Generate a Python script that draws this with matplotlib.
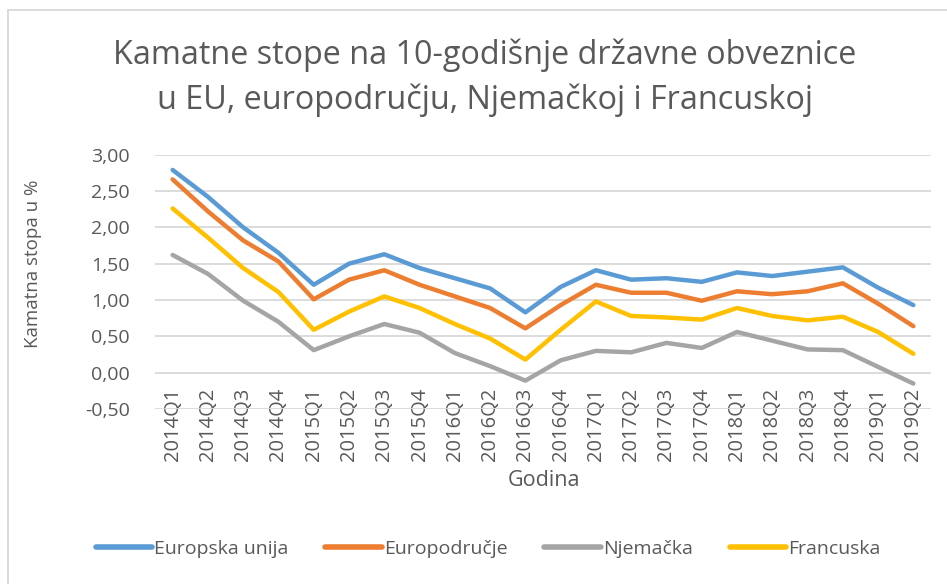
import matplotlib
matplotlib.use("Agg")
import matplotlib.pyplot as plt
from matplotlib.patches import Rectangle

quarters = [
    "2014Q1", "2014Q2", "2014Q3", "2014Q4",
    "2015Q1", "2015Q2", "2015Q3", "2015Q4",
    "2016Q1", "2016Q2", "2016Q3", "2016Q4",
    "2017Q1", "2017Q2", "2017Q3", "2017Q4",
    "2018Q1", "2018Q2", "2018Q3", "2018Q4",
    "2019Q1", "2019Q2",
]
eu = [2.79, 2.42, 2.00, 1.65, 1.21, 1.50, 1.63, 1.44, 1.30, 1.16, 0.83,
      1.18, 1.41, 1.28, 1.30, 1.25, 1.38, 1.33, 1.39, 1.45, 1.17, 0.93]
euro_area = [2.66, 2.22, 1.82, 1.53, 1.01, 1.28, 1.41, 1.21, 1.05, 0.89, 0.61,
             0.93, 1.21, 1.10, 1.10, 0.99, 1.12, 1.08, 1.12, 1.23, 0.95, 0.64]
germany = [1.62, 1.36, 0.99, 0.70, 0.31, 0.50, 0.67, 0.55, 0.27, 0.09, -0.11,
           0.17, 0.30, 0.28, 0.41, 0.34, 0.56, 0.44, 0.32, 0.31, 0.08, -0.15]
france = [2.26, 1.86, 1.44, 1.11, 0.59, 0.84, 1.05, 0.89, 0.67, 0.47, 0.18,
          0.59, 0.98, 0.78, 0.76, 0.73, 0.89, 0.78, 0.72, 0.77, 0.56, 0.26]

series_names = ["Europska unija", "Europodručje", "Njemačka", "Francuska"]
colors = ["#5B9BD5", "#ED7D31", "#A5A5A5", "#FFC000"]
text_color = "#595959"

plt.rcParams["font.family"] = ["Open Sans", "DejaVu Sans"]

fig = plt.figure(figsize=(9.47, 5.84), dpi=100)
W, H = 947, 584

# chart area border (Excel style), cut by the image edges on the right/bottom
fig.patches.append(Rectangle((8 / W, -0.1), 1.2, 1 - 10 / H + 0.1,
                             transform=fig.transFigure, fill=False,
                             edgecolor="#d9d9d9", linewidth=1.3))

ax = fig.add_axes([155 / W, 1 - 409 / H, (931 - 155) / W, (409 - 154.7) / H])
# category axis crosses at 0, like Excel (labels hang below the zero line)
ax.spines["bottom"].set_position(("data", 0))

x = range(len(quarters))
for vals, name, c in zip([eu, euro_area, germany, france], series_names, colors):
    ax.plot(x, vals, color=c, linewidth=3.2, label=name,
            solid_capstyle="round", solid_joinstyle="round")

ax.set_xlim(-0.5, len(quarters) - 0.5)
ax.set_ylim(-0.5, 3.0)
ax.set_yticks([-0.5, 0, 0.5, 1.0, 1.5, 2.0, 2.5, 3.0])
ax.set_yticklabels([f"{v:.2f}".replace(".", ",") for v in ax.get_yticks()])
ax.set_xticks(list(x))
ax.set_xticklabels(quarters)

for s in ax.spines.values():
    s.set_visible(False)
ax.grid(True, axis="y", color="#d9d9d9", linewidth=1.3)
ax.set_axisbelow(True)
ax.tick_params(axis="both", length=0, colors=text_color)
ax.tick_params(axis="x", pad=11, labelrotation=90, labelsize=14.5)
ax.tick_params(axis="y", pad=18, labelsize=14)

fig.text(485 / W, 1 - 55 / H, "Kamatne stope na 10-godišnje državne obveznice",
         ha="center", va="center", fontsize=23.3, color=text_color)
fig.text(485 / W, 1 - 100 / H, "u EU, europodručju, Njemačkoj i Francuskoj",
         ha="center", va="center", fontsize=23.3, color=text_color)
fig.text(544 / W, 1 - 480 / H, "Godina", ha="center", va="center",
         fontsize=15.5, color=text_color)
fig.text(33 / W, 1 - 264 / H, "Kamatna stopa u %", ha="center", va="center",
         rotation=90, fontsize=13.5, color=text_color)

leg = fig.legend(loc="center", bbox_to_anchor=(488 / W, 1 - 549 / H), ncol=4,
                 frameon=False, fontsize=14, handlelength=2.9,
                 handletextpad=0.1, columnspacing=1.9)
for t in leg.get_texts():
    t.set_color(text_color)
for h in leg.get_lines():
    h.set_linewidth(4)

fig.savefig("out.png", dpi=100)
